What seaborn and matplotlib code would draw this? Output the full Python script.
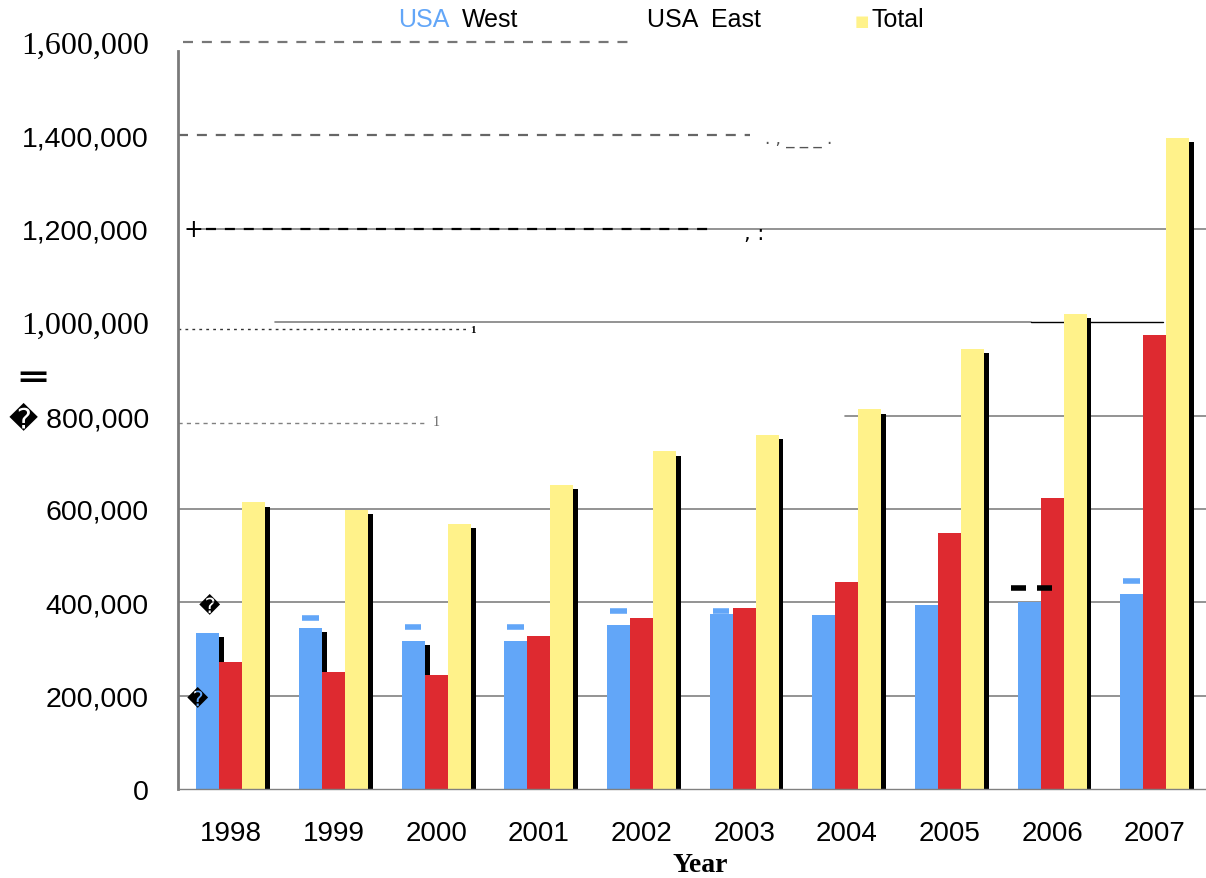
import matplotlib
matplotlib.use("Agg")
import matplotlib.pyplot as plt
import matplotlib.patheffects as pe
import numpy as np
import pandas as pd
import seaborn as sns

# Passenger counts per year and region
years = ["1998", "1999", "2000", "2001", "2002", "2003", "2004", "2005", "2006", "2007"]
usa_west = [335000, 345000, 317000, 317000, 352000, 374000, 372000, 395000, 400000, 417000]
usa_east = [273000, 251000, 245000, 328000, 367000, 387000, 443000, 548000, 623000, 972000]
total = [614000, 598000, 568000, 651000, 723000, 758000, 813000, 942000, 1018000, 1394000]
series_names = ["USA West", "USA East", "Total"]

# small blue caps printed above some of the West bars
west_caps = [None, 366000, 346000, 346000, 381000, 381000, None, None, None, 445000]

y_ticks = [0, 200000, 400000, 600000, 800000, 1000000, 1200000, 1400000, 1600000]
y_tick_labels = ["0", "200,000", "400,000", "600,000", "\ufffd 800,000", "1,000,000",
                 "1,200,000", "1,400,000", "1,600,000"]
serif_labels = {"1,000,000", "1,600,000"}

colors = ["#62a6f8", "#de2a30", "#fff28a"]

df = pd.DataFrame({
    "Year": np.repeat(years, 3),
    "Series": series_names * len(years),
    "Value": np.ravel(np.column_stack([usa_west, usa_east, total])),
})

sns.set_style("white")
plt.rcParams["font.family"] = ["Liberation Sans", "DejaVu Sans"]
plt.rcParams["text.color"] = "black"
plt.rcParams["xtick.labelcolor"] = "black"
plt.rcParams["ytick.labelcolor"] = "black"

fig = plt.figure(figsize=(12.06, 8.79), dpi=100)
ax = fig.add_axes([178 / 1206, 1 - 790 / 879, 1028 / 1206, (790 - 43) / 879])

sns.barplot(data=df, x="Year", y="Value", hue="Series", hue_order=series_names,
            palette=colors, saturation=1, width=0.672, gap=0, legend=False,
            errorbar=None, ax=ax, zorder=2)

shadow = [pe.SimplePatchShadow(offset=(3.5, -3), shadow_rgbFace="black", alpha=1.0),
          pe.Normal()]
for bar in ax.patches:
    bar.set_edgecolor("none")
    bar.set_path_effects(shadow)

ax.set_xlim(-0.516, 9.5)
ax.set_ylim(0, 1600000)

# grid lines, partly dashed / dotted as printed
grid_c = "#808080"
for v in [200000, 400000, 600000]:
    ax.axhline(v, color=grid_c, lw=1.2, zorder=0)
ax.axhline(800000, xmin=0.649, xmax=1, color=grid_c, lw=1.2, zorder=0)
ax.axhline(785000, xmin=0.0, xmax=0.24, color=grid_c, lw=1.0, ls=(0, (3, 3)), zorder=0)
ax.axhline(1000000, xmin=0.094, xmax=0.83, color=grid_c, lw=1.2, zorder=0)
ax.axhline(1000000, xmin=0.83, xmax=0.958, color="black", lw=1.0, zorder=0)
ax.axhline(985000, xmin=0.0, xmax=0.28, color="#333333", lw=1.0, ls=(0, (2, 3)), zorder=0)
ax.axhline(1200000, xmin=0.02, xmax=1, color=grid_c, lw=1.2, zorder=0)
ax.axhline(1200000, xmin=0.027, xmax=0.522, color="black", lw=1.6, ls=(0, (4.5, 4)), zorder=1)
ax.axhline(1400000, xmin=0.0, xmax=0.556, color="#666666", lw=1.6, ls=(0, (4.5, 4)), zorder=0)
ax.axhline(1600000, xmin=0.005, xmax=0.443, color="#777777", lw=1.6, ls=(0, (4.5, 4)), zorder=0,
           clip_on=False)

# stray marks along the grid lines
ax.text(-0.37, 1200000, "+", fontsize=17, color="black", ha="center", va="center",
        family="DejaVu Sans")
ax.text(5.0, 1190000, ", :", fontsize=15, color="black", ha="left", va="center",
        family="DejaVu Sans")
ax.text(5.2, 1395000, ". , _ _ _ .", fontsize=12, color="#555555", ha="left", va="center",
        family="DejaVu Sans")
ax.text(2.33, 985000, "1", fontsize=8, color="black", ha="left", va="center",
        family="Liberation Serif", weight="bold")
ax.text(1.97, 788000, "1", fontsize=10, color="#666666", ha="left", va="center",
        family="Liberation Serif")
ax.text(-0.21, 395000, "\ufffd", fontsize=15, ha="center", va="center", family="DejaVu Sans")
ax.text(-0.33, 195000, "\ufffd", fontsize=15, ha="center", va="center", family="DejaVu Sans")

# blue caps above the West bars
bw = 0.672 / 3
for i, v in enumerate(west_caps):
    if v is not None:
        x0 = i - 1.5 * bw + 0.03
        ax.hlines(v, x0, x0 + 0.16, color=colors[0], lw=4, zorder=3)

# black dash pair beside the 2006 group
ax.hlines([430000, 430000], [7.6, 7.85], [7.75, 8.0], color="black", lw=4, zorder=3)

# axes styling
for s in ["top", "right"]:
    ax.spines[s].set_visible(False)
ax.spines["left"].set_color("#7a7a7a")
ax.spines["left"].set_linewidth(2)
ax.spines["left"].set_bounds(0, 1580000)
ax.spines["bottom"].set_color("#808080")
ax.spines["bottom"].set_linewidth(1)

ax.set_yticks(y_ticks)
ax.set_yticklabels(y_tick_labels)
for lab in ax.get_yticklabels():
    lab.set_color("black")
    if lab.get_text() in serif_labels:
        lab.set_family("Liberation Serif")
        lab.set_fontsize(23)
    else:
        lab.set_family(["Liberation Sans", "DejaVu Sans"])
        lab.set_fontsize(20.5)
ax.tick_params(axis="y", which="major", length=6, width=1, color="#808080",
               direction="inout", pad=18)

ax.set_xticks(range(len(years)))
ax.set_xticklabels(years, fontsize=20, color="black")
ax.set_xticks(np.arange(0.5, len(years) - 0.5, 1), minor=True)
ax.tick_params(axis="x", which="major", length=0, pad=22)
ax.tick_params(axis="x", which="minor", length=8, width=1, color="#808080", direction="out")
ax.set_xlabel("")
ax.set_ylabel("")

fig.text(700 / 1206, 1 - 866 / 879, "Year", family="Liberation Serif", weight="bold",
         fontsize=20, ha="center", va="center", color="black")

# legend across the top
ly = 1 - 20 / 879
fig.text(398 / 1206, ly, "USA", color=colors[0], fontsize=18, ha="left", va="center")
fig.text(462 / 1206, ly, "West", color="black", fontsize=18, ha="left", va="center")
fig.text(647 / 1206, ly, "USA  East", color="black", fontsize=18, ha="left", va="center")
fig.text(855 / 1206, ly - 0.002, "\u25a0", color=colors[2], fontsize=11, ha="left", va="center",
         family="DejaVu Sans")
fig.text(871 / 1206, ly, "Total", color="black", fontsize=18, ha="left", va="center")

# stray double bar beside the value axis
fig.text(33 / 1206, 1 - 379 / 879, "\u2550", fontsize=30, ha="center", va="center",
         family="DejaVu Sans", weight="bold", color="black")

fig.savefig("out.png", dpi=100)
